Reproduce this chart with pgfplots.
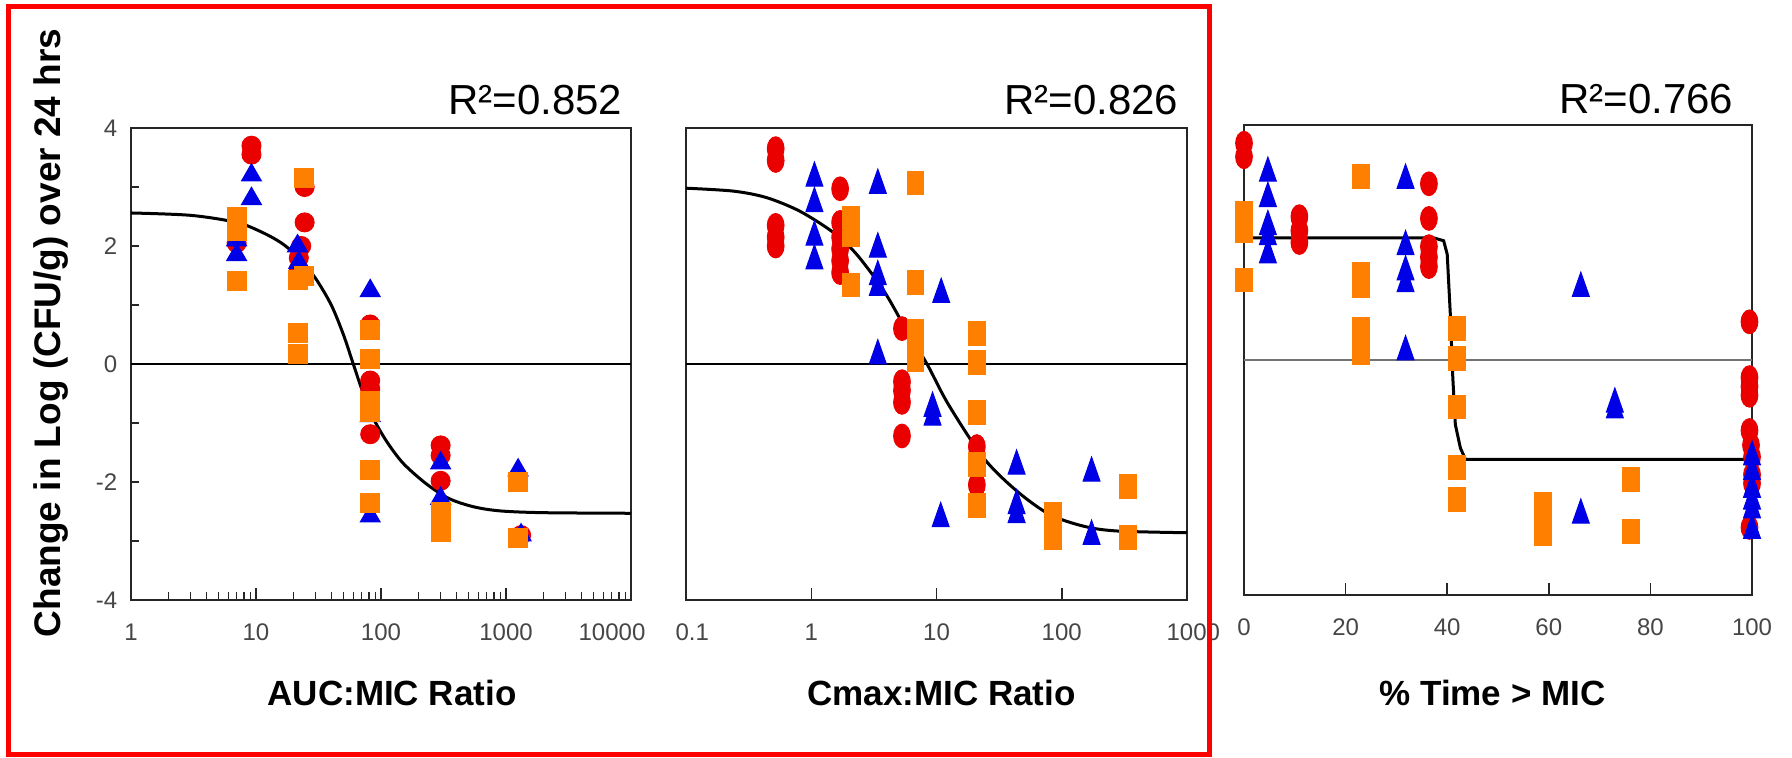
\documentclass[border=0pt]{standalone}
\usepackage{pgfplots}
\pgfplotsset{compat=1.18}
\usepackage{fontspec}
\setmainfont{Liberation Sans}

\definecolor{ptred}{RGB}{235,0,0}
\definecolor{ptblue}{RGB}{0,0,230}
\definecolor{ptorange}{RGB}{255,128,0}
\definecolor{ticktext}{RGB}{70,70,70}

\tikzset{rsq/.style={anchor=base east, font=\fontsize{16.8pt}{18pt}\selectfont}}

\pgfplotsset{
  panel/.style={
    scale only axis, anchor=south west, clip=false,
    ymin=-4, ymax=4,
    axis line style={black!85, line width=0.6pt},
    tick align=inside,
    xtick pos=left, ytick pos=left,
    major tick length=5pt, minor tick length=3.2pt,
    tick style={black!85, line width=0.6pt},
    major y tick style={draw=none},
    minor ytick={-3,...,3},
    ticklabel style={font=\fontsize{9.6pt}{11pt}\selectfont, text=ticktext},
    xticklabel style={yshift=-6pt},
    /pgf/number format/assume math mode=true,
    xlabel style={font=\bfseries\fontsize{14pt}{16pt}\selectfont, anchor=base},
  },
  circ/.style={only marks, mark=*, mark size=3.8pt, color=ptred},
  tri/.style={only marks, mark=triangle*, mark size=4.6pt, color=ptblue},
  sq/.style={only marks, mark=square*, mark size=3.8pt, color=ptorange},
  tall/.style={mark options={xscale=0.88, yscale=1.25}},
  talltri/.style={mark options={xscale=0.85, yscale=1.4}},
  fit/.style={black, line width=1.2pt, no marks},
  zero/.style={black, line width=0.5pt, no marks},
}

\begin{document}
\begin{tikzpicture}
\useasboundingbox (0,0) rectangle (716.8pt,302.8pt);
\fill[white] (0,0) rectangle (716.8pt,302.8pt);

% AUC:MIC
\begin{axis}[panel, at={(52.4pt,62.8pt)}, width=200pt, height=188.8pt,
  xmode=log, xmin=1, xmax=10000,
  xtick={1,10,100,1000}, xticklabels={1,10,100,1000},
  extra x ticks={10000}, extra x tick labels={10000},
  extra x tick style={xticklabel style={xshift=-7.6pt}},
  minor xtick={2,3,...,9,20,30,...,90,200,300,...,900,2000,3000,...,9000},
  ytick={-4,-2,0,2,4}, yticklabels={-4,-2,0,2,4},
  yticklabel style={xshift=-2pt},
  xlabel={AUC:MIC Ratio},
  xlabel style={at={(rel axis cs:0.522,0)}, yshift=-42pt},
  ylabel={Change in Log (CFU/g) over 24 hrs},
  ylabel style={at={(rel axis cs:-0.16,0.566)}, anchor=center,
    font=\bfseries\fontsize{14.8pt}{16pt}\selectfont},
]
\addplot[zero] coordinates {(1,0) (10000,0)};
\addplot[circ] coordinates {(7,2.05) (9.2,3.7) (9.2,3.55) (23,2.0) (22,1.8) (22,1.6)
  (24.5,3.0) (24.5,2.4) (82,0.67) (82,-0.28) (82,-0.42) (82,-1.19)
  (300,-1.38) (300,-1.55) (300,-1.98) (1320,-2.9)};
\addplot[tri] coordinates {(7,2.1) (7,1.85) (9.2,3.2) (9.2,2.8) (21.5,2.0) (22,1.72)
  (24,1.45) (82,1.24) (82,-0.88) (82,-2.58) (300,-1.68) (300,-2.28)
  (1250,-1.8) (1320,-2.9)};
\addplot[sq] coordinates {(7,2.5) (7,2.25) (7,1.4) (21.5,1.42) (21.5,0.52) (21.5,0.17)
  (24.2,3.15) (24.2,1.5) (82,0.58) (82,0.09) (82,-0.62) (82,-0.82) (82,-1.8) (82,-2.36)
  (300,-2.5) (300,-2.68) (300,-2.85) (1250,-2.0) (1250,-2.95)};
\addplot[fit, smooth] coordinates {(1,2.56) (3,2.52) (7,2.40) (11,2.24) (16,2.05)
  (22,1.80) (30,1.45) (40,1.0) (50,0.5) (60,0.0) (70,-0.42) (85,-0.88) (110,-1.3)
  (150,-1.68) (230,-2.03) (350,-2.28) (550,-2.42) (900,-2.49) (2000,-2.52) (10000,-2.53)};
\node[rsq, yshift=5.6pt] at (rel axis cs:1,1) {R²=0.852};
\end{axis}

% Cmax:MIC
\begin{axis}[panel, at={(274.4pt,62.8pt)}, width=200.4pt, height=188.8pt,
  xmode=log, xmin=0.1, xmax=1000,
  xtick={1,10,100}, xticklabels={1,10,100},
  extra x ticks={0.1,1000}, extra x tick labels={0.1,1000},
  extra x tick style={xticklabel style={xshift=2.5pt}},
  minor x tick style={draw=none},
  ytick=\empty,
  xlabel={Cmax:MIC Ratio},
  xlabel style={at={(rel axis cs:0.51,0)}, yshift=-42pt},
]
\addplot[zero] coordinates {(0.1,0) (1000,0)};
\addplot[circ, tall] coordinates {(0.52,3.65) (0.52,3.45) (0.52,2.35) (0.52,2.15) (0.52,2.0)
  (1.7,2.97) (1.7,2.4) (1.7,2.15) (1.7,1.95) (1.7,1.75) (1.7,1.55)
  (5.3,0.6) (5.3,-0.3) (5.3,-0.45) (5.3,-0.65) (5.3,-1.22)
  (21,-1.4) (21,-1.6) (21,-2.05)};
\addplot[tri, talltri] coordinates {(1.06,3.15) (1.06,2.72) (1.06,2.15) (1.06,1.75)
  (3.4,3.03) (3.4,1.95) (3.4,1.48) (3.4,1.3) (3.4,0.14) (10.9,1.18) (9.3,-0.75) (9.3,-0.9)
  (10.8,-2.62) (43.6,-1.73) (43.6,-2.4) (43.6,-2.55) (173,-1.85) (173,-2.92)};
\addplot[sq, tall] coordinates {(2.07,2.46) (2.07,2.2) (2.07,1.34)
  (6.8,3.07) (6.8,1.38) (6.8,0.55) (6.8,0.3) (6.8,0.08)
  (21,0.52) (21,0.02) (21,-0.82) (21,-1.7) (21,-2.4)
  (85,-2.55) (85,-2.75) (85,-2.95) (340,-2.07) (340,-2.94)};
\addplot[fit, smooth] coordinates {(0.1,2.98) (0.24,2.93) (0.44,2.82) (0.81,2.59)
  (1.5,2.23) (2.3,1.86) (3.8,1.24) (5.8,0.56) (8.4,0.0) (12.4,-0.68) (23.7,-1.59)
  (43.6,-2.15) (80,-2.55) (150,-2.75) (275,-2.83) (1000,-2.86)};
\node[rsq, yshift=5.6pt] at (rel axis cs:1,1) {R²=0.826};
\end{axis}

% % Time > MIC
\begin{axis}[panel, at={(497.6pt,64.8pt)}, width=203.2pt, height=188pt,
  xmin=0, xmax=100,
  xtick={0,20,40,60,80,100}, xticklabels={0,20,40,60,80,100},
  ytick=\empty,
  xlabel={\% Time > MIC},
  xlabel style={at={(rel axis cs:0.489,0)}, yshift=-44pt},
]
\addplot[black!55, line width=0.5pt, no marks] coordinates {(0,0) (100,0)};
\addplot[circ, tall] coordinates {(0,3.69) (0,3.46) (10.9,2.44) (10.9,2.2) (10.9,2.0)
  (36.4,3.0) (36.4,2.41) (36.4,1.93) (36.4,1.75) (36.4,1.59)
  (99.5,0.65) (99.5,-0.3) (99.5,-0.45) (99.5,-0.6) (99.5,-1.2) (99.8,-1.45)
  (100,-1.65) (100,-1.95) (100,-2.1) (99.5,-2.85)};
\addplot[tri, talltri] coordinates {(4.7,3.18) (4.7,2.75) (4.7,2.27) (4.7,2.1) (4.7,1.79)
  (31.8,3.06) (31.8,1.93) (31.8,1.5) (31.8,1.3) (31.8,0.14) (66.3,1.22) (66.3,-2.64)
  (73,-0.75) (73,-0.85) (100,-1.65) (100,-1.9) (100,-2.2) (100,-2.4) (100,-2.55) (100,-2.9)};
\addplot[sq, tall] coordinates {(0,2.5) (0,2.21) (0,1.36) (23,3.12) (23,1.45) (23,1.27)
  (23,0.52) (23,0.32) (23,0.12) (41.9,0.54) (41.9,0.03) (41.9,-0.8) (41.9,-1.83)
  (41.9,-2.38) (58.9,-2.45) (58.9,-2.7) (58.9,-2.95) (76.2,-2.04) (76.2,-2.92)};
\addplot[fit] coordinates {(0,2.08) (37.3,2.08) (39.3,2.03) (40.0,1.8) (40.6,0.8)
  (41.1,-0.3) (41.6,-1.1) (42.6,-1.5) (43.6,-1.69) (99.5,-1.69)};
\node[rsq, yshift=4.8pt, xshift=-4pt] at (rel axis cs:1,1) {R²=0.766};
\end{axis}

\draw[red, line width=2pt] (3.4pt,1pt) rectangle (483.6pt,300.2pt);
\end{tikzpicture}
\end{document}
